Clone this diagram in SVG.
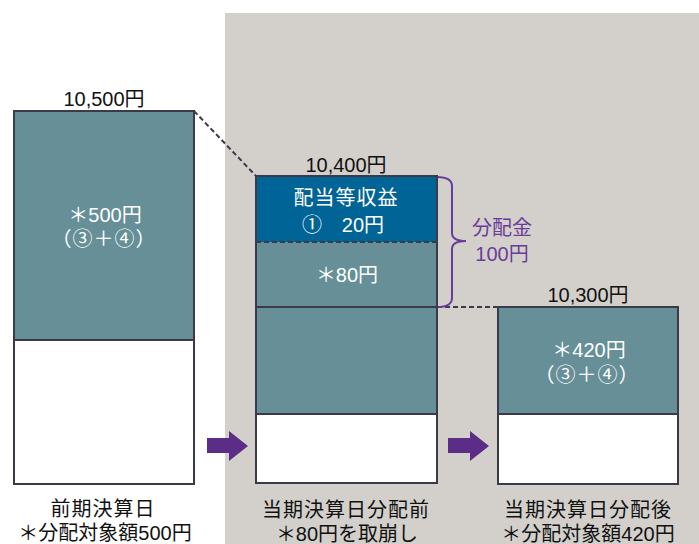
<svg xmlns="http://www.w3.org/2000/svg" width="699" height="544" viewBox="0 0 699 544">
<style>
text{font-family:"Liberation Sans","Noto Sans CJK JP",sans-serif;font-size:20px;text-anchor:middle}
.dk{fill:#111111}
.wt{fill:#ffffff}
.pp{fill:#6a3d9a}
.teal{fill:#668f98}
.blue{fill:#006496}
.wh{fill:#ffffff}
.edge{fill:none;stroke:#3b3a48;stroke-width:2}
.dash{fill:none;stroke:#3b3a48;stroke-width:2;stroke-dasharray:5 3}
.arrow{fill:#5b2d87}
</style>
<rect x="225" y="13" width="474" height="531" fill="#d3d0cb"/>
<g id="connectors">
<line class="dash" x1="194" y1="111" x2="256" y2="176"/>
<line class="dash" x1="437" y1="307" x2="498" y2="307"/>
<polygon class="arrow" points="207,438 229,438 229,431 248,446 229,461 229,453 207,453"/>
<polygon class="arrow" points="448,438 470,438 470,431 489,446 470,461 470,453 448,453"/>
<path d="M437,177 Q452,177 452,186 L452,233 Q452,241 466,241 Q452,241 452,249 L452,298 Q452,307 437,307" fill="none" stroke="#6a3d9a" stroke-width="2"/>
</g>
<g id="box-prev">
<rect class="teal" x="14" y="111" width="180" height="229"/>
<rect class="wh" x="14" y="340" width="180" height="144"/>
<line class="edge" x1="14" y1="340" x2="194" y2="340"/>
<rect class="edge" x="14" y="111" width="180" height="373"/>
<text class="dk" x="104" y="106">10,500円</text>
<text class="wt" x="105" y="222">＊500円</text>
<text class="wt" x="104" y="246" letter-spacing="1">（③＋④）</text>
</g>
<g id="box-before">
<rect class="blue" x="256" y="176" width="181" height="66"/>
<rect class="teal" x="256" y="242" width="181" height="172"/>
<rect class="wh" x="256" y="414" width="181" height="69"/>
<line class="dash" x1="256" y1="242" x2="437" y2="242" stroke-width="1.5"/>
<line class="edge" x1="256" y1="307" x2="437" y2="307"/>
<line class="edge" x1="256" y1="414" x2="437" y2="414"/>
<rect class="edge" x="256" y="176" width="181" height="307"/>
<text class="dk" x="346" y="172">10,400円</text>
<text class="wt" x="346" y="205" letter-spacing="1">配当等収益</text>
<text class="wt" x="343" y="232">①　20円</text>
<text class="wt" x="347" y="282">＊80円</text>
</g>
<g id="label-dist">
<text class="pp" x="502" y="235">分配金</text>
<text class="pp" x="502" y="261">100円</text>
</g>
<g id="box-after">
<rect class="teal" x="498" y="307" width="180" height="107"/>
<rect class="wh" x="498" y="414" width="180" height="70"/>
<line class="edge" x1="498" y1="414" x2="678" y2="414"/>
<rect class="edge" x="498" y="307" width="180" height="177"/>
<text class="dk" x="588" y="302">10,300円</text>
<text class="wt" x="589" y="357">＊420円</text>
<text class="wt" x="587" y="382" letter-spacing="1">（③＋④）</text>
</g>
<g id="captions">
<text class="dk" x="103" y="516" letter-spacing="1">前期決算日</text>
<text class="dk" x="105" y="540">＊分配対象額500円</text>
<text class="dk" x="346" y="517" letter-spacing="1">当期決算日分配前</text>
<text class="dk" x="347" y="541">＊80円を取崩し</text>
<text class="dk" x="588" y="517" letter-spacing="1">当期決算日分配後</text>
<text class="dk" x="588" y="541">＊分配対象額420円</text>
</g>
</svg>
